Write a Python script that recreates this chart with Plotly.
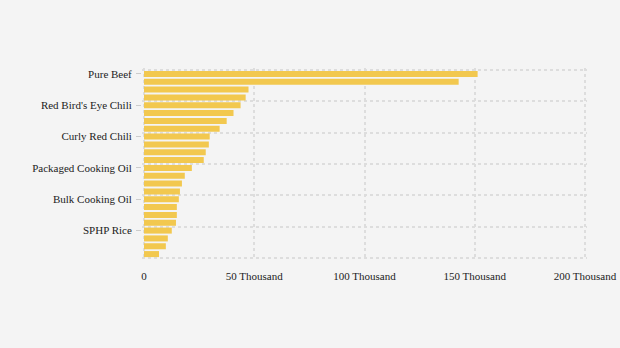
import plotly.graph_objects as go

categories = [
    "Pure Beef", "Fresh Buffalo Meat", "Shallots", "Mackerel",
    "Red Bird's Eye Chili", "Garlic", "Broiler Chicken Meat", "Skipjack Tuna",
    "Curly Red Chili", "Milkfish", "Chicken Eggs", "Frozen Buffalo Meat",
    "Packaged Cooking Oil", "Consumption Sugar", "Minyakita", "Packaged Wheat Flour",
    "Bulk Cooking Oil", "Premium Rice", "Medium Rice", "Consumption Salt",
    "SPHP Rice", "Imported Soybeans", "Bulk Wheat Flour", "Corn (Farmer Level)",
]
values = [
    151300, 142700, 47400, 46100,
    43800, 40600, 37500, 34300,
    29800, 29400, 28000, 27100,
    21700, 18500, 17200, 16300,
    15800, 14900, 14900, 14500,
    12600, 10800, 9900, 6800,
]
y_tick_labels = ["Pure Beef", "Red Bird's Eye Chili", "Curly Red Chili",
                 "Packaged Cooking Oil", "Bulk Cooking Oil", "SPHP Rice"]
x_tick_values = [0, 50000, 100000, 150000, 200000]
x_tick_labels = ["0", "50 Thousand", "100 Thousand", "150 Thousand", "200 Thousand"]
y_grid_values = [-0.5, 3.5, 7.5, 11.5, 15.5, 19.5, 23.5]

font = dict(family="Liberation Serif", size=11, color="#222222")
grid_color = "#dddddd"

fig = go.Figure()
fig.add_trace(go.Bar(
    x=values, y=categories, orientation="h",
    marker=dict(color="#f2c84f", line=dict(width=0)),
    hovertemplate="%{y}: %{x}<extra></extra>",
))
# invisible helper trace on yaxis2 for horizontal boundary gridlines
fig.add_trace(go.Scatter(x=[None], y=[None], yaxis="y2", showlegend=False, hoverinfo="skip"))

# plot area padded by 2px on every side so edge gridlines are kept
fig.update_layout(
    width=620, height=348,
    margin=dict(l=142, r=33, t=68, b=88, autoexpand=False),
    paper_bgcolor="#f4f4f4", plot_bgcolor="#f4f4f4",
    font=font, showlegend=False, bargap=0.23,
    xaxis=dict(
        range=[-907, 200907], tickvals=x_tick_values, ticktext=x_tick_labels,
        showgrid=True, gridcolor=grid_color, gridwidth=1.5, griddash="dot",
        zeroline=False, showline=False, ticks="", ticklabelstandoff=8,
        tickfont=font, automargin=False,
    ),
    yaxis=dict(
        type="category", categoryorder="array", categoryarray=categories,
        range=[23.755, -0.755], tickvals=y_tick_labels,
        showgrid=False, zeroline=False, showline=False,
        ticks="outside", ticklen=5, tickcolor="#cccccc", tickwidth=1,
        ticklabelstandoff=2, tickfont=font, automargin=False,
    ),
    yaxis2=dict(
        overlaying="y", range=[23.755, -0.755], tickvals=y_grid_values,
        showticklabels=False, showgrid=True, gridcolor=grid_color,
        gridwidth=1.5, griddash="dot", zeroline=False, showline=False, ticks="",
        automargin=False,
    ),
)

fig.write_html("out.html")
